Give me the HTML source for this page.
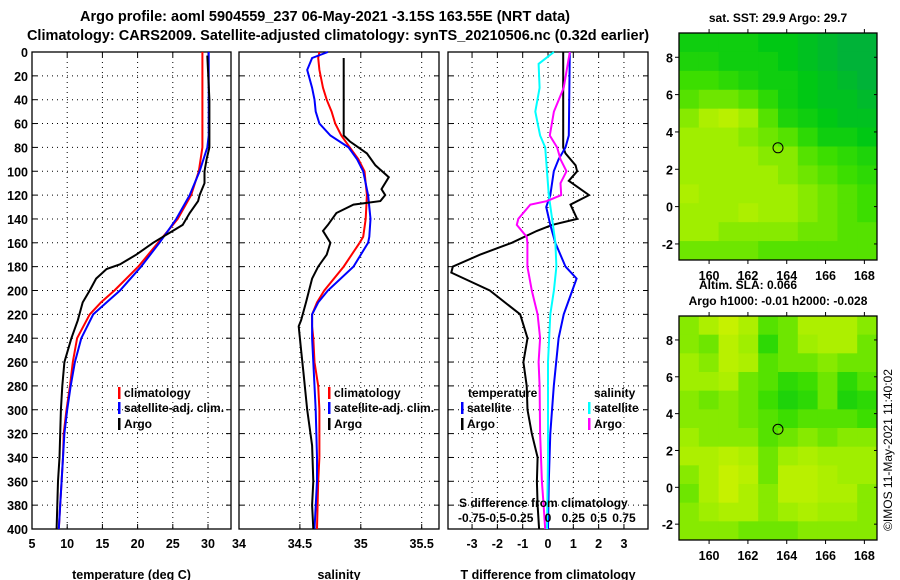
<!DOCTYPE html>
<html><head><meta charset="utf-8"><style>
body{margin:0;background:#fff}
svg{display:block;font-family:"Liberation Sans",sans-serif;font-weight:bold}
</style></head><body>
<svg id="c" width="900" height="580" viewBox="0 0 900 580">
<text x="325" y="21" font-size="14.5" text-anchor="middle">Argo profile: aoml 5904559_237 06-May-2021 -3.15S 163.55E (NRT data)</text>
<text x="338" y="40" font-size="14.5" text-anchor="middle">Climatology: CARS2009. Satellite-adjusted climatology: synTS_20210506.nc (0.32d earlier)</text>
<text x="778" y="22" font-size="12" text-anchor="middle">sat. SST: 29.9 Argo: 29.7</text>
<text x="748" y="289" font-size="12" text-anchor="middle">Altim. SLA: 0.066</text>
<text x="778" y="305" font-size="12" text-anchor="middle">Argo h1000: -0.01 h2000: -0.028</text>
<text transform="translate(892,450) rotate(-90)" font-size="12" font-weight="normal" text-anchor="middle">©IMOS 11-May-2021 11:40:02</text>
<g id="plots"></g>
</svg>
<script>
// ---- data ----
const tDepth=[0,20,40,60,70,80,100,120,140,150,160,180,200,210,220,240,260,280,300,320,340,360,380,400];
const tClim=[29.2,29.2,29.2,29.2,29.2,29.2,28.7,27.6,25.7,24.3,22.9,20.1,16.7,14.8,13.2,11.4,10.8,10.4,9.9,9.5,9.4,9.2,9.0,8.8];
const tSat=[30.1,30.1,30.1,30.1,30.1,29.9,28.8,27.4,25.5,24.3,23.1,20.5,17.5,15.6,13.7,12.0,11.1,10.5,10.0,9.6,9.4,9.2,9.0,8.8];
const aDepth=[3,40,80,90,100,110,120,125,135,145,150,155,160,170,178,182,190,200,210,225,240,260,280,300,320,340,360,380,400];
const tArgo=[29.9,30.2,30.2,29.8,29.5,29.5,28.8,28.6,27.4,26.4,25.0,23.6,22.2,19.8,17.5,15.6,14.1,13.2,12.2,11.5,10.6,9.6,9.3,9.1,9.0,8.9,8.7,8.6,8.5];
const sDepth=[0,5,15,30,40,50,60,70,80,90,100,120,140,155,160,180,200,210,220,230,240,260,280,300,340,360,400];
const sClim=[34.66,34.65,34.66,34.69,34.72,34.76,34.79,34.84,34.91,34.98,35.03,35.05,35.04,35.02,34.99,34.86,34.70,34.64,34.60,34.60,34.61,34.62,34.65,34.66,34.66,34.65,34.64];
const sSat=[34.73,34.60,34.56,34.60,34.62,34.63,34.66,34.75,34.90,34.97,35.02,35.06,35.08,35.07,35.06,34.94,34.73,34.65,34.60,34.60,34.60,34.61,34.62,34.63,34.64,34.64,34.62];
const saDepth=[5,70,75,85,95,105,115,120,125,128,135,145,150,160,170,180,190,210,225,230,250,270,300,330,360,380,400];
const sArgo=[34.86,34.86,34.91,35.05,35.12,35.23,35.17,35.20,35.16,34.94,34.80,34.73,34.69,34.75,34.72,34.65,34.60,34.55,34.51,34.49,34.51,34.53,34.56,34.60,34.61,34.60,34.61];
const dDepthB=[0,70,80,90,100,120,130,145,160,180,190,200,220,240,280,320,360,400];
const dTSat=[0.86,0.82,0.69,0.42,0.23,0.09,-0.07,0.09,0.29,0.69,1.13,0.96,0.62,0.42,0.23,0.09,0.03,0.0];
const dDepthK=[0,80,85,95,100,108,120,128,140,145,150,160,170,180,185,200,220,240,260,280,300,320,340,360,380,400];
const dTArgo=[0.60,0.60,0.69,1.09,1.15,0.82,1.62,0.89,1.15,0.16,-0.44,-1.43,-2.69,-3.76,-3.82,-2.30,-1.10,-0.81,-0.97,-0.84,-0.81,-0.64,-0.41,-0.44,-0.41,-0.35];
const dDepthC=[0,10,30,50,70,80,100,120,140,160,180,200,220,260,300,340,400];
const dSSat=[0.058,-0.093,-0.083,-0.125,-0.078,-0.028,-0.01,0.008,0.04,0.073,0.083,0.058,0.023,0.0,0.0,0.0,-0.01];
const dDepthM=[0,30,50,70,80,90,100,110,120,125,128,140,145,155,160,180,200,220,240,260,280,320,360,380,400];
const dSArgo=[0.215,0.155,0.058,0.018,0.09,0.123,0.183,0.123,0.13,-0.01,-0.175,-0.293,-0.308,-0.21,-0.203,-0.203,-0.16,-0.103,-0.078,-0.093,-0.083,-0.078,-0.06,-0.043,-0.028];
const depthTicks=[0,20,40,60,80,100,120,140,160,180,200,220,240,260,280,300,320,340,360,380,400];
const tTicks=[5,10,15,20,25,30];
const sTicks=[34,34.5,35,35.5];
const dTicks=[-3,-2,-1,0,1,2,3];
const sDiffLabels=["-0.75-0.5-0.25","0","0.25","0.5","0.75"];
const lonTicks=[160,162,164,166,168];
const latTicks=[-2,0,2,4,6,8];
const sstGrid=[
[0.3,0.3,0.3,0.3,0.25,0.25,0.2,0.15,0.1,0.1],
[0.35,0.35,0.3,0.3,0.3,0.25,0.2,0.15,0.1,0.1],
[0.45,0.45,0.4,0.35,0.3,0.3,0.25,0.2,0.15,0.1],
[0.5,0.55,0.55,0.5,0.4,0.3,0.25,0.2,0.2,0.15],
[0.6,0.7,0.75,0.65,0.5,0.35,0.3,0.25,0.2,0.2],
[0.65,0.65,0.65,0.6,0.55,0.5,0.4,0.3,0.3,0.25],
[0.65,0.65,0.65,0.65,0.6,0.6,0.5,0.45,0.4,0.35],
[0.65,0.65,0.65,0.65,0.65,0.6,0.55,0.5,0.45,0.4],
[0.7,0.65,0.65,0.65,0.65,0.65,0.6,0.55,0.5,0.45],
[0.65,0.65,0.65,0.7,0.65,0.65,0.6,0.55,0.5,0.45],
[0.65,0.65,0.6,0.6,0.6,0.6,0.55,0.55,0.5,0.5],
[0.55,0.55,0.55,0.55,0.5,0.5,0.5,0.5,0.5,0.5]];
const slaGrid=[
[0.6,0.7,0.8,0.7,0.5,0.55,0.7,0.7,0.7,0.6],
[0.6,0.55,0.75,0.65,0.4,0.55,0.65,0.7,0.7,0.55],
[0.65,0.6,0.75,0.7,0.5,0.55,0.55,0.6,0.55,0.55],
[0.65,0.65,0.7,0.55,0.5,0.4,0.45,0.55,0.4,0.5],
[0.6,0.55,0.6,0.55,0.45,0.35,0.4,0.55,0.35,0.4],
[0.6,0.6,0.6,0.55,0.5,0.45,0.5,0.5,0.5,0.45],
[0.65,0.6,0.6,0.6,0.5,0.55,0.6,0.55,0.6,0.6],
[0.7,0.7,0.75,0.7,0.55,0.65,0.7,0.65,0.65,0.65],
[0.6,0.7,0.8,0.75,0.55,0.75,0.75,0.7,0.65,0.65],
[0.55,0.7,0.8,0.7,0.6,0.75,0.75,0.7,0.7,0.6],
[0.6,0.65,0.7,0.7,0.6,0.65,0.7,0.65,0.65,0.6],
[0.6,0.6,0.6,0.55,0.55,0.55,0.6,0.6,0.6,0.6]];
const floatPos=[163.55,3.15];

// ---- drawing ----
const NS="http://www.w3.org/2000/svg";
const root=document.getElementById('plots');
function mk(tag,attrs,parent){const e=document.createElementNS(NS,tag);for(const k in attrs)e.setAttribute(k,attrs[k]);(parent||root).appendChild(e);return e;}
const Y0=52,Y1=529;
const yD=d=>Y0+(d/400)*(Y1-Y0);
function panel(name,x0,x1,vmin,vmax,ticks,title,labels){
  const sx=v=>x0+(v-vmin)/(vmax-vmin)*(x1-x0);
  const g=mk('g',{});
  
  
  ticks.forEach(t=>{
    const l=mk('line',{x1:sx(t),x2:sx(t),y1:Y0,y2:Y1,stroke:'#000','stroke-width':1,'stroke-dasharray':'1,4'},g);
    
    
    mk('line',{x1:sx(t),x2:sx(t),y1:Y0,y2:Y0+5,stroke:'#000'},g);
    mk('line',{x1:sx(t),x2:sx(t),y1:Y1,y2:Y1-5,stroke:'#000'},g);
    if(labels){const tx=mk('text',{x:sx(t),y:548,'font-size':12.5,'text-anchor':'middle'},g);tx.textContent=String(t);
      
      }
  });
  depthTicks.forEach(d=>{
    const l=mk('line',{x1:x0,x2:x1,y1:yD(d),y2:yD(d),stroke:'#000','stroke-width':1,'stroke-dasharray':'1,4'},g);
    
    
    mk('line',{x1:x0,x2:x0+5,y1:yD(d),y2:yD(d),stroke:'#000'},g);
    mk('line',{x1:x1,x2:x1-5,y1:yD(d),y2:yD(d),stroke:'#000'},g);
  });
  const r=mk('rect',{x:x0,y:Y0,width:x1-x0,height:Y1-Y0,fill:'none',stroke:'#000','stroke-width':1.3},g);
  
  
  const tt=mk('text',{x:(x0+x1)/2,y:579,'font-size':12.5,'text-anchor':'middle'},g);tt.textContent=title;
  
  
  return {sx,g};
}
function series(p,vals,depths,color,name,w){
  const pts=vals.map((v,i)=>p.sx(v).toFixed(1)+','+yD(depths[i]).toFixed(1)).join(' ');
  const pl=mk('polyline',{points:pts,fill:'none',stroke:color,'stroke-width':w||2},p.g);
  
  
}
function txt(g,x,y,s,name,size){const t=mk('text',{x:x,y:y,'font-size':size||12},g);t.textContent=s;
  
  return t;}
function legItem(g,x,y,color,label,name){
  mk('rect',{x:x,y:y-10,width:2.5,height:12,fill:color},g);
  txt(g,x+6,y,label,name);
}
depthTicks.forEach(d=>{const t=mk('text',{x:28,y:yD(d)+5,'font-size':12.5,'text-anchor':'end'});t.textContent=String(d);
  
  });

const pT=panel('temperature-panel',32,231,5,5+(231-32)/7.04,tTicks,'temperature (deg C)',true);
series(pT,tClim,tDepth,'#f00','temp-climatology-line');
series(pT,tSat,tDepth,'#00f','temp-satellite-line');
series(pT,tArgo,aDepth,'#000','temp-argo-line');
legItem(pT.g,118,397,'#f00','climatology','legend-climatology');
legItem(pT.g,118,412,'#00f','satellite-adj. clim.','legend-satellite');
legItem(pT.g,118,428,'#000','Argo','legend-argo');

const pS=panel('salinity-panel',239,439,34,34+(439-239)/121.8,sTicks,'salinity',true);
series(pS,sClim,sDepth,'#f00','sal-climatology-line');
series(pS,sSat,sDepth,'#00f','sal-satellite-line');
series(pS,sArgo,saDepth,'#000','sal-argo-line');
legItem(pS.g,328,397,'#f00','climatology','legend-climatology');
legItem(pS.g,328,412,'#00f','satellite-adj. clim.','legend-satellite');
legItem(pS.g,328,428,'#000','Argo','legend-argo');

const pD=panel('difference-panel',448,648,-3.95,3.95,dTicks,'T difference from climatology',true);
const pDs={sx:v=>pD.sx(v*4),g:pD.g};
series(pD,dTArgo,dDepthK,'#000','tdiff-argo-line');
series(pD,dTSat,dDepthB,'#00f','tdiff-satellite-line');
series(pDs,dSSat,dDepthC,'#0ff','sdiff-satellite-line');
series(pDs,dSArgo,dDepthM,'#f0f','sdiff-argo-line');
txt(pD.g,468,397,'temperature','legend-temperature-header');
txt(pD.g,594,397,'salinity','legend-salinity-header');
legItem(pD.g,461,412,'#00f','satellite','legend-t-satellite');
legItem(pD.g,461,428,'#000','Argo','legend-t-argo');
legItem(pD.g,588,412,'#0ff','satellite','legend-s-satellite');
legItem(pD.g,588,428,'#f0f','Argo','legend-s-argo');
txt(pD.g,459,507,'S difference from climatology','s-axis-title');
txt(pD.g,458,522,sDiffLabels[0],'s-tick-label');
[0,0.25,0.5,0.75].forEach((v,i)=>{const t=txt(pD.g,pDs.sx(v),522,sDiffLabels[i+1],'s-tick-label');t.setAttribute('text-anchor','middle');});

// maps
const stops=[[0,[0,165,80]],[0.25,[0,200,20]],[0.45,[60,222,0]],[0.65,[160,238,0]],[0.85,[210,242,0]],[1,[240,200,0]]];
function cmap(v){for(let i=1;i<stops.length;i++){if(v<=stops[i][0]){const a=stops[i-1],b=stops[i],f=(v-a[0])/(b[0]-a[0]);return 'rgb('+a[1].map((c,k)=>Math.round(c+(b[1][k]-c)*f)).join(',')+')';}}return 'rgb(240,200,0)';}
function map(name,top,bottom,grid,labelY){
  const x0=679,x1=877,lonMin=158.45,lonMax=168.65;
  const latMax=9.3,latMin=-2.86;
  const sx=v=>x0+(v-lonMin)/(lonMax-lonMin)*(x1-x0);
  const sy=v=>top+(latMax-v)/(latMax-latMin)*(bottom-top);
  const g=mk('g',{});
  
  
  const rows=grid.length,cols=grid[0].length;
  const dLat=(latMax-latMin)/rows,dLon=(lonMax-lonMin)/cols;
  grid.forEach((row,i)=>row.forEach((v,j)=>{
    const xa=sx(lonMin+j*dLon),ya=sy(latMax-i*dLat);
    const c=mk('rect',{x:xa,y:ya,width:sx(lonMin+(j+1)*dLon)-xa+0.5,height:sy(latMax-(i+1)*dLat)-ya+0.5,fill:cmap(v)},g);
    
    
  }));
  const f=mk('rect',{x:x0,y:top,width:x1-x0,height:bottom-top,fill:'none',stroke:'#000','stroke-width':1.3},g);
  
  
  lonTicks.forEach(t=>{mk('line',{x1:sx(t),x2:sx(t),y1:top,y2:top-4,stroke:'#000'},g);mk('line',{x1:sx(t),x2:sx(t),y1:bottom,y2:bottom+4,stroke:'#000'},g);
    const l=txt(g,sx(t),labelY,String(t),'lon-tick-label',12.5);l.setAttribute('text-anchor','middle');});
  latTicks.forEach(t=>{mk('line',{x1:x0,x2:x0-4,y1:sy(t),y2:sy(t),stroke:'#000'},g);mk('line',{x1:x1,x2:x1-3,y1:sy(t),y2:sy(t),stroke:'#000'},g);
    const l=txt(g,673,sy(t)+5,String(t),'lat-tick-label',12.5);l.setAttribute('text-anchor','end');});
  const m=mk('circle',{cx:sx(floatPos[0]),cy:sy(floatPos[1]),r:5,fill:'none',stroke:'#000','stroke-width':1},g);
  
  
}
map('sst-map',33,260,sstGrid,280);
map('sla-map',316,540,slaGrid,560);
</script>
</body></html>
